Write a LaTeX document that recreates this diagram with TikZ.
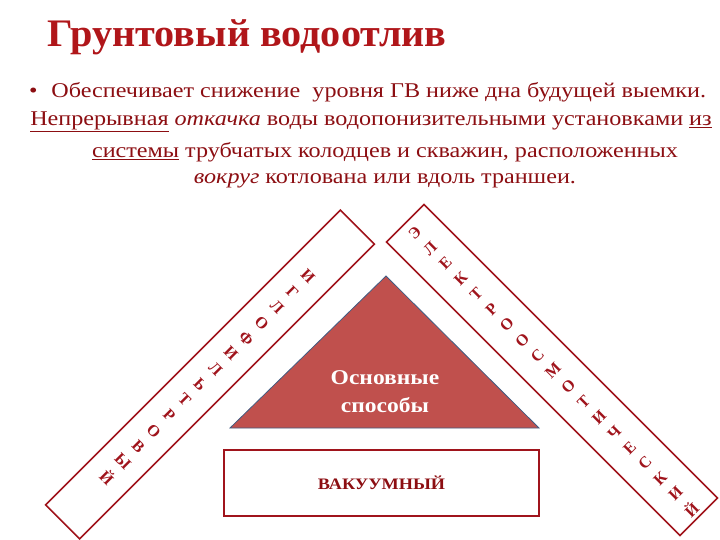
\documentclass[tikz,border=0pt]{standalone}
\usepackage{fontspec}
\setmainfont{Liberation Serif}
\usetikzlibrary{calc}
\definecolor{titlered}{RGB}{176,22,26}
\definecolor{textred}{RGB}{140,14,18}
\definecolor{bandred}{RGB}{160,20,28}
\definecolor{trifill}{RGB}{192,80,77}
\definecolor{triedge}{RGB}{66,92,130}

\begin{document}
\begin{tikzpicture}[x=1pt, y=1pt,
    line/.style={font=\fontsize{21}{24}\selectfont, text=textred, inner sep=0pt, xscale=1.15},
    band/.style={draw=bandred, line width=1.6pt, fill=white, inner sep=0pt, outer sep=0pt},
    letter/.style={font=\fontsize{16}{16}\selectfont\bfseries, text=bandred, inner sep=0pt}]
    \useasboundingbox (0,0) rectangle (720,-540);

    % title and text
    \node[font=\fontsize{39}{40}\selectfont\bfseries, text=titlered, anchor=west, xscale=1.03] (title) at (44,-37) {Грунтовый водоотлив};
    \node[line, anchor=west] (bul) at (29,-92) {\textbullet\hspace{12pt}Обеспечивает снижение \ уровня ГВ ниже дна будущей выемки.};
    \node[line] (l2) at (371,-122) {\underline{Непрерывная} \textit{откачка} воды водопонизительными установками \underline{из}};
    \node[line] (l3) at (385,-152) {\underline{системы} трубчатых колодцев и скважин, расположенных};
    \node[line] (l4) at (385,-181) {\textit{вокруг} котлована или вдоль траншеи.};

    % diagonal bands
    \node[band, rotate=45, minimum width=417, minimum height=48] (lband) at (210,-374.5) {};
    \node[band, rotate=-45, minimum width=415, minimum height=53] (rband) at (552,-370) {};
    \foreach \ch [count=\i from 0] in {И,Г,Л,О,Ф,И,Л,Ь,Т,Р,О,В,Ы,Й} {
        \node[letter, rotate=-45] (lch\i) at ($(lband.east)!\i*21.8pt+70pt!(lband.west)$) {\ch};
    }
    \foreach \ch [count=\i from 0] in {Э,Л,Е,К,Т,Р,О,О,С,М,О,Т,И,Ч,Е,С,К,И,Й} {
        \node[letter, rotate=45] (rch\i) at ($(rband.west)!\i*21.7pt+13.5pt!(rband.east)$) {\ch};
    }

    % triangle
    \coordinate (ta) at (386,-276);
    \coordinate (tl) at (230,-428);
    \coordinate (tr) at (539,-428);
    \draw[fill=trifill, draw=triedge, line width=0.8pt] (tl) -- (ta) -- (tr) -- cycle;
    \node[font=\fontsize{21}{28}\selectfont\bfseries, text=white, align=center, xscale=1.12] (ways) at (385,-392) {Основные\\способы};

    % bottom box
    \node[draw=bandred, line width=1.6pt, minimum width=315, minimum height=66, inner sep=0pt] (vac) at (381.5,-483) {};
    \node[font=\fontsize{16}{16}\selectfont\bfseries, text=textred, xscale=1.14] (vactext) at (vac) {ВАКУУМНЫЙ};
\end{tikzpicture}
\end{document}
